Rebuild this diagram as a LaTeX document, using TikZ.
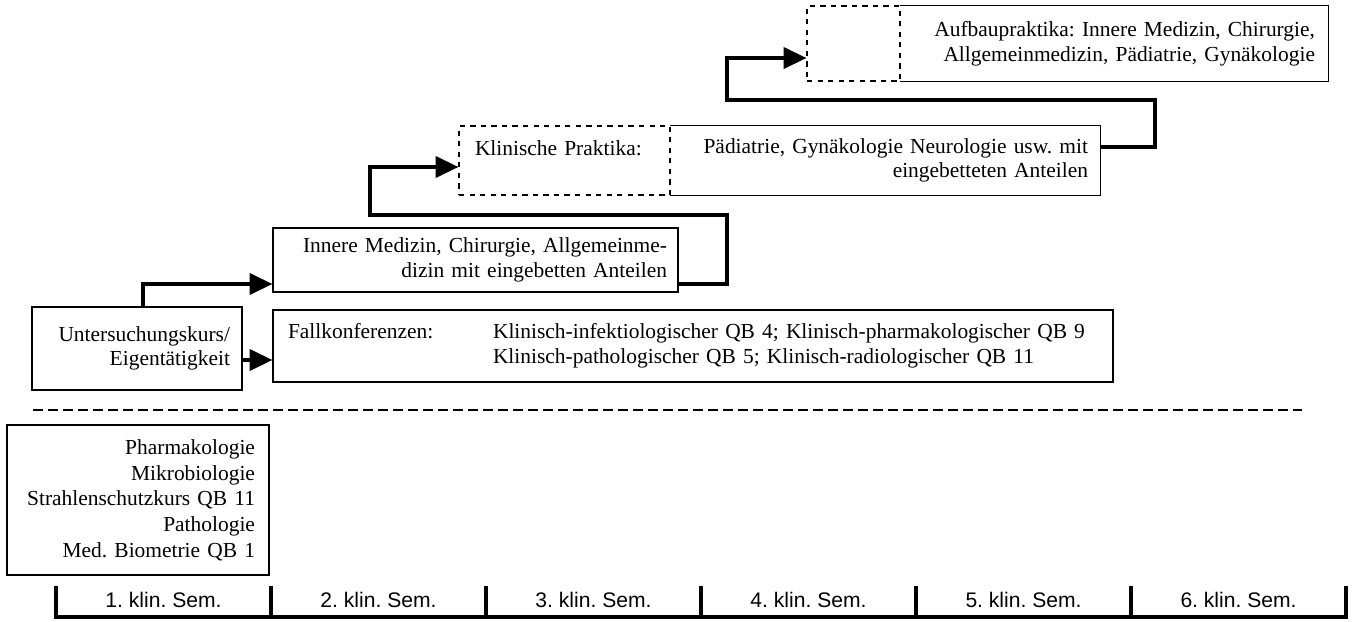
\documentclass[tikz,border=0pt]{standalone}
\usepackage{fontspec}
\setmainfont{Liberation Serif}
\setsansfont{Liberation Sans}
\usetikzlibrary{arrows.meta}

\begin{document}
\frenchspacing
\begin{tikzpicture}[
    font=\fontsize{12.2}{14}\selectfont,
    kasten/.style={draw, line width=0.6pt, align=right, inner ysep=0pt},
    offen/.style={align=right, inner ysep=0pt},
    leer/.style={draw, dashed, line width=0.6pt, inner ysep=0pt},
    pfeil/.style={line width=2pt, -{Triangle[length=13pt,width=12pt]}},
    balken/.style={line width=2pt, line cap=rect},
    semtext/.style={font=\sffamily\fontsize{12}{14}\selectfont}
  ]
  \useasboundingbox (0,0) rectangle (27.16,-12.44);

  % Kaesten
  \node[kasten, minimum height=1.66cm, inner xsep=0.24cm, text width=3.72cm] (unters) at (2.74,-6.97)
    {Untersuchungskurs/\\Eigentätigkeit};
  \node[kasten, align=left, minimum height=1.44cm, inner xsep=0.3cm, text width=16.2cm] (fall) at (13.86,-6.92)
    {\makebox[4.1cm][l]{Fallkonferenzen:}Klinisch-infektiologischer QB 4; Klinisch-pharmakologischer QB 9\\
     \hspace*{4.1cm}Klinisch-pathologischer QB 5; Klinisch-radiologischer QB 11};
  \node[kasten, minimum height=1.28cm, inner xsep=0.22cm, text width=7.66cm] (innere) at (9.51,-5.2)
    {Innere Medizin, Chirurgie, Allgemeinme-\\dizin mit eingebetten Anteilen};
  \node[leer, align=left, minimum height=1.38cm, inner xsep=0.32cm, text width=3.58cm] (praktika) at (11.29,-3.21)
    {Klinische Praktika:\\\mbox{}};
  \node[offen, minimum height=1.38cm, inner xsep=0.24cm, text width=8.12cm] (paed) at (17.7,-3.21)
    {Pädiatrie, Gynäkologie Neurologie usw. mit\\eingebetteten Anteilen};
  \draw[line width=0.6pt] (paed.north west) -- (paed.north east) -- (paed.south east) -- (paed.south west);
  \node[leer, minimum width=1.86cm, minimum height=1.5cm] (aufbauleer) at (17.07,-0.87) {};
  \node[offen, minimum height=1.5cm, inner xsep=0.26cm, text width=8.04cm] (aufbau) at (22.28,-0.87)
    {Aufbaupraktika: Innere Medizin, Chirurgie,\\Allgemeinmedizin, Pädiatrie, Gynäkologie};
  \draw[line width=0.6pt] (aufbau.north west) -- (aufbau.north east) -- (aufbau.south east) -- (aufbau.south west);
  \node[kasten, font=\fontsize{12.2}{14.6}\selectfont, minimum height=3cm, inner xsep=0.28cm, text width=4.68cm] (faecher) at (2.76,-10.0)
    {Pharmakologie\\Mikrobiologie\\Strahlenschutzkurs QB 11\\Pathologie\\Med. Biometrie QB 1};

  % Pfeile
  \draw[pfeil] (unters.east |- 0,-7.2) -- (fall.west |- 0,-7.2);
  \draw[pfeil] ([xshift=0.12cm]unters.north) |- (innere.west |- 0,-5.68);
  \draw[pfeil] (innere.east |- 0,-5.68) -- (14.54,-5.68) -- (14.54,-4.3) -- (7.4,-4.3) |- (praktika.west |- 0,-3.34);
  \draw[pfeil] (paed.east |- 0,-2.94) -- (23.1,-2.94) -- (23.1,-2.0) -- (14.54,-2.0) |- (aufbauleer.west |- 0,-1.16);

  \draw[line width=0.6pt, dash pattern=on 0.2cm off 0.1cm] (0.66,-8.2) -- (26.04,-8.2);

  % Semester
  \foreach \i in {0,...,6}
    \draw[balken] (1.12+4.3*\i,-11.76) -- (1.12+4.3*\i,-12.34);
  \draw[balken] (1.12,-12.34) -- (26.92,-12.34);
  \foreach \i in {1,...,6}
    \node[semtext] (sem\i) at (4.3*\i-1.03,-12.0) {\i. klin. Sem.};
\end{tikzpicture}
\end{document}
